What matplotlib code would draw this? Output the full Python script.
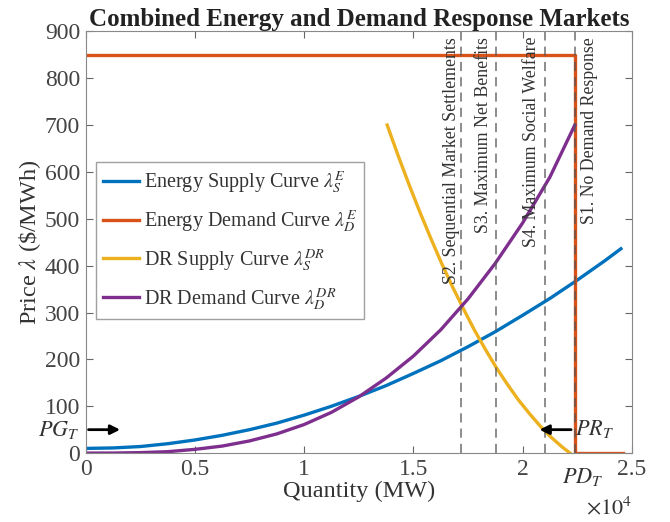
import numpy as np
import matplotlib
matplotlib.use("Agg")
import matplotlib.pyplot as plt

plt.rcParams['font.family'] = ['Liberation Serif', 'DejaVu Serif']
plt.rcParams['mathtext.fontset'] = 'stix'

# quantities in units of 1e4 MW, prices in $/MWh
q_es = [0, 0.125, 0.25, 0.375, 0.5, 0.625, 0.75, 0.875, 1.0, 1.125, 1.25,
        1.375, 1.5, 1.625, 1.75, 1.875, 2.0, 2.125, 2.25, 2.375, 2.45]
p_es = [10, 11, 14, 20, 28, 38, 50, 64, 81, 100, 121,
        144, 170, 197, 227, 259, 294, 330, 369, 410, 436]

q_ed = [0, 2.239, 2.239, 2.46]
p_ed = [850, 850, 0, 0]

q_drs = [1.38, 1.43, 1.48, 1.53, 1.58, 1.63, 1.68, 1.73, 1.78, 1.83, 1.88,
         1.93, 1.98, 2.03, 2.08, 2.13, 2.18, 2.217]
p_drs = [700, 635, 573, 514, 458, 404, 354, 307, 262, 221, 182,
         147, 114, 85, 58, 34, 13.5, 0]

q_drd = [0, 0.125, 0.25, 0.375, 0.5, 0.625, 0.75, 0.875, 1.0, 1.125, 1.25,
         1.375, 1.5, 1.625, 1.75, 1.875, 2.0, 2.125, 2.239]
p_drd = [0, 0.1, 1, 3, 8, 15, 26, 41, 61, 87, 120,
         160, 207, 263, 329, 405, 491, 589, 700]

scen_q = [1.718, 1.877, 2.102, 2.239]
scen_labels = ['S2. Sequential Market Settlements', 'S3. Maximum Net Benefits',
               'S4. Maximum Social Welfare', 'S1. No Demand Response']
scen_text_q = [1.676, 1.82, 2.04, 2.308]

fig = plt.figure(figsize=(6.7, 5.22), dpi=100)
ax = fig.add_axes([0.128, 0.132, 0.815, 0.808])

ax.plot(q_es, p_es, color='#0072BD', lw=2.4, label=r'Energy Supply Curve $\lambda_S^E$')
ax.plot(q_ed, p_ed, color='#D95319', lw=2.4, label=r'Energy Demand Curve $\lambda_D^E$')
ax.plot(q_drs, p_drs, color='#EDB120', lw=2.4, label=r'DR Supply Curve $\lambda_S^{DR}$')
ax.plot(q_drd, p_drd, color='#7E2F8E', lw=2.4, label=r'DR Demand Curve $\lambda_D^{DR}$')

for q in scen_q:
    ax.axvline(q, color='#555555', lw=1.1, ls=(0, (6, 4)), alpha=0.85)
for q, s in zip(scen_text_q, scen_labels):
    ax.text(q, 888, s, rotation=90, ha='center', va='top', fontsize=12.8, color='#333333')

# arrows for PG_T and PR_T
ax.annotate('', xy=(0.17, 50), xytext=(0, 50),
            arrowprops=dict(arrowstyle='-|>', color='k', lw=2, mutation_scale=14))
ax.annotate('', xy=(2.065, 50), xytext=(2.235, 50),
            arrowprops=dict(arrowstyle='-|>', color='k', lw=2, mutation_scale=14))
ax.text(-0.012, 50, r'$PG_T$', transform=ax.get_yaxis_transform(), ha='right', va='center',
        fontsize=16, color='#333333', clip_on=False)
ax.text(2.24, 52, r'$PR_T$', ha='left', va='center', fontsize=16, color='#333333')
ax.text(2.276, -0.03, r'$PD_T$', transform=ax.get_xaxis_transform(), ha='center', va='top',
        fontsize=16, color='#333333', clip_on=False)
ax.text(1.0, -0.104, r'$\times10^4$', transform=ax.transAxes, ha='right', va='top',
        fontsize=16, color='#333333')

ax.set_xlim(0, 2.5)
ax.set_ylim(0, 900)
ax.set_xticks([0, 0.5, 1, 1.5, 2, 2.5])
ax.set_xticklabels(['0', '0.5', '1', '1.5', '2', '2.5'])
ax.set_yticks(np.arange(0, 901, 100))
ax.tick_params(direction='in', length=5, top=True, right=True, labelsize=17,
               colors='#666666', labelcolor='#444444', pad=4)
for sp in ax.spines.values():
    sp.set_color('#888888')

ax.set_xlabel('Quantity (MW)', fontsize=17.5, color='#333333', labelpad=1)
ax.set_ylabel(r'Price $\lambda$ (\$/MWh)', fontsize=17.5, color='#333333', labelpad=1)
ax.set_title('Combined Energy and Demand Response Markets', fontsize=18,
             fontweight='bold', color='#222222', pad=4)

leg = ax.legend(loc='upper left', bbox_to_anchor=(0.018, 0.689), borderaxespad=0,
                fontsize=14.5, frameon=True, fancybox=False, handlelength=1.8,
                labelspacing=0.65, borderpad=0.35, handletextpad=0.25)
leg.get_frame().set_edgecolor('#888888')
leg.get_frame().set_linewidth(1.0)
for t in leg.get_texts():
    t.set_color('#333333')

fig.savefig('out.png', dpi=100)
